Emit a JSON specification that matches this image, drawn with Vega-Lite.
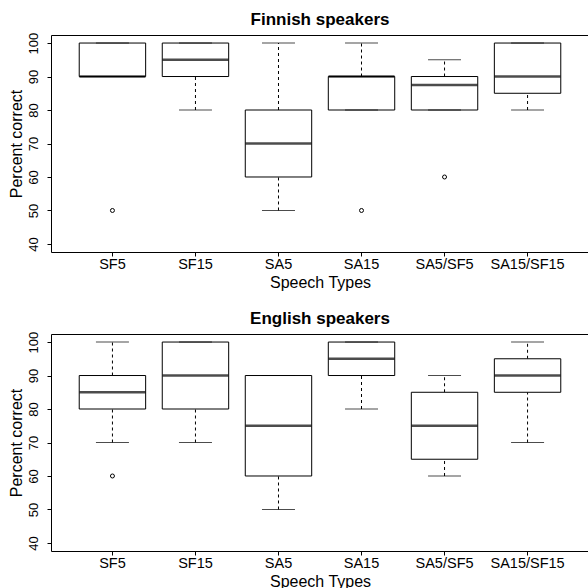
{
  "$schema": "https://vega.github.io/schema/vega-lite/v6.json",
  "padding": {"left": 7, "top": 10, "right": 0, "bottom": 0},
  "background": "white",
  "bounds": "flush",
  "spacing": 82,
  "config": {
    "view": {"stroke": "black", "strokeWidth": 1},
    "font": "Liberation Sans",
    "axis": {"grid": false, "domain": false, "tickColor": "black", "tickSize": 4, "labelColor": "black", "titleColor": "black", "labelFont": "Liberation Sans", "titleFont": "Liberation Sans", "titleFontWeight": "normal", "labelOverlap": false},
    "axisY": {"tickCount": 7, "labelOverlap": false, "labelSeparation": 0, "labelAngle": -90, "labelAlign": "center", "labelBaseline": "alphabetic", "labelPadding": 10, "labelFontSize": 13, "titleFontSize": 16, "titlePadding": 3},
    "title": {"font": "Liberation Sans", "fontSize": 17, "fontWeight": "bold", "color": "black", "anchor": "middle", "frame": "group", "baseline": "alphabetic", "offset": 3}
  },
  "datasets": {
    "boxes": [
      {"group": "Finnish", "type": "SF5", "lower": 90, "q1": 90, "median": 90, "q3": 100, "upper": 100},
      {"group": "Finnish", "type": "SF15", "lower": 80, "q1": 90, "median": 95, "q3": 100, "upper": 100},
      {"group": "Finnish", "type": "SA5", "lower": 50, "q1": 60, "median": 70, "q3": 80, "upper": 100},
      {"group": "Finnish", "type": "SA15", "lower": 80, "q1": 80, "median": 90, "q3": 90, "upper": 100},
      {"group": "Finnish", "type": "SA5/SF5", "lower": 80, "q1": 80, "median": 87.5, "q3": 90, "upper": 95},
      {"group": "Finnish", "type": "SA15/SF15", "lower": 80, "q1": 85, "median": 90, "q3": 100, "upper": 100},
      {"group": "English", "type": "SF5", "lower": 70, "q1": 80, "median": 85, "q3": 90, "upper": 100},
      {"group": "English", "type": "SF15", "lower": 70, "q1": 80, "median": 90, "q3": 100, "upper": 100},
      {"group": "English", "type": "SA5", "lower": 50, "q1": 60, "median": 75, "q3": 90, "upper": 90},
      {"group": "English", "type": "SA15", "lower": 80, "q1": 90, "median": 95, "q3": 100, "upper": 100},
      {"group": "English", "type": "SA5/SF5", "lower": 60, "q1": 65, "median": 75, "q3": 85, "upper": 90},
      {"group": "English", "type": "SA15/SF15", "lower": 70, "q1": 85, "median": 90, "q3": 95, "upper": 100}
    ],
    "outliers": [
      {"group": "Finnish", "type": "SF5", "value": 50},
      {"group": "Finnish", "type": "SA15", "value": 50},
      {"group": "Finnish", "type": "SA5/SF5", "value": 60},
      {"group": "English", "type": "SF5", "value": 60}
    ]
  },
  "vconcat": [
    {
      "title": {"text": "Finnish speakers"},
      "width": 538,
      "height": 217,
      "encoding": {
        "x": {"field": "type", "type": "nominal", "sort": ["SF5", "SF15", "SA5", "SA15", "SA5/SF5", "SA15/SF15"],
          "scale": {"paddingInner": 0, "paddingOuter": 0.24},
          "axis": {"title": "Speech Types", "labelAngle": 0, "labelFontSize": 14.5, "labelBaseline": "alphabetic", "labelPadding": 12, "titleFontSize": 16, "titlePadding": 4}}
      },
      "layer": [
        {
          "data": {"name": "boxes"},
          "transform": [{"filter": "datum.group == 'Finnish'"}],
          "layer": [
            {"mark": {"type": "rule", "color": "black", "strokeDash": [3, 3], "strokeWidth": 1},
             "encoding": {"y": {"field": "lower", "type": "quantitative", "scale": {"domain": [37.6, 102.4], "nice": false, "zero": false},
               "axis": {"title": "Percent correct", "values": [40, 50, 60, 70, 80, 90, 100], "tickCount": 7}},
               "y2": {"field": "q1"}}},
            {"mark": {"type": "rule", "color": "black", "strokeDash": [3, 3], "strokeWidth": 1},
             "encoding": {"y": {"field": "q3", "type": "quantitative"}, "y2": {"field": "upper"}}},
            {"mark": {"type": "bar", "width": {"band": 0.8}, "fill": "white", "stroke": "black", "strokeWidth": 1},
             "encoding": {"y": {"field": "q1", "type": "quantitative"}, "y2": {"field": "q3"}}},
            {"mark": {"type": "tick", "color": "black", "size": 33, "thickness": 1},
             "encoding": {"y": {"field": "lower", "type": "quantitative"}}},
            {"mark": {"type": "tick", "color": "black", "size": 33, "thickness": 1},
             "encoding": {"y": {"field": "upper", "type": "quantitative"}}},
            {"mark": {"type": "tick", "color": "black", "size": 66, "thickness": 2.5},
             "encoding": {"y": {"field": "median", "type": "quantitative"}}}
          ]
        },
        {
          "data": {"name": "outliers"},
          "transform": [{"filter": "datum.group == 'Finnish'"}],
          "mark": {"type": "point", "shape": "circle", "size": 16, "filled": false, "stroke": "black", "strokeWidth": 1, "opacity": 1},
          "encoding": {"y": {"field": "value", "type": "quantitative"}}
        }
      ]
    },
    {
      "title": {"text": "English speakers"},
      "width": 538,
      "height": 217,
      "encoding": {
        "x": {"field": "type", "type": "nominal", "sort": ["SF5", "SF15", "SA5", "SA15", "SA5/SF5", "SA15/SF15"],
          "scale": {"paddingInner": 0, "paddingOuter": 0.24},
          "axis": {"title": "Speech Types", "labelAngle": 0, "labelFontSize": 14.5, "labelBaseline": "alphabetic", "labelPadding": 12, "titleFontSize": 16, "titlePadding": 4}}
      },
      "layer": [
        {
          "data": {"name": "boxes"},
          "transform": [{"filter": "datum.group == 'English'"}],
          "layer": [
            {"mark": {"type": "rule", "color": "black", "strokeDash": [3, 3], "strokeWidth": 1},
             "encoding": {"y": {"field": "lower", "type": "quantitative", "scale": {"domain": [37.6, 102.4], "nice": false, "zero": false},
               "axis": {"title": "Percent correct", "values": [40, 50, 60, 70, 80, 90, 100], "tickCount": 7}},
               "y2": {"field": "q1"}}},
            {"mark": {"type": "rule", "color": "black", "strokeDash": [3, 3], "strokeWidth": 1},
             "encoding": {"y": {"field": "q3", "type": "quantitative"}, "y2": {"field": "upper"}}},
            {"mark": {"type": "bar", "width": {"band": 0.8}, "fill": "white", "stroke": "black", "strokeWidth": 1},
             "encoding": {"y": {"field": "q1", "type": "quantitative"}, "y2": {"field": "q3"}}},
            {"mark": {"type": "tick", "color": "black", "size": 33, "thickness": 1},
             "encoding": {"y": {"field": "lower", "type": "quantitative"}}},
            {"mark": {"type": "tick", "color": "black", "size": 33, "thickness": 1},
             "encoding": {"y": {"field": "upper", "type": "quantitative"}}},
            {"mark": {"type": "tick", "color": "black", "size": 66, "thickness": 2.5},
             "encoding": {"y": {"field": "median", "type": "quantitative"}}}
          ]
        },
        {
          "data": {"name": "outliers"},
          "transform": [{"filter": "datum.group == 'English'"}],
          "mark": {"type": "point", "shape": "circle", "size": 16, "filled": false, "stroke": "black", "strokeWidth": 1, "opacity": 1},
          "encoding": {"y": {"field": "value", "type": "quantitative"}}
        }
      ]
    }
  ]
}
